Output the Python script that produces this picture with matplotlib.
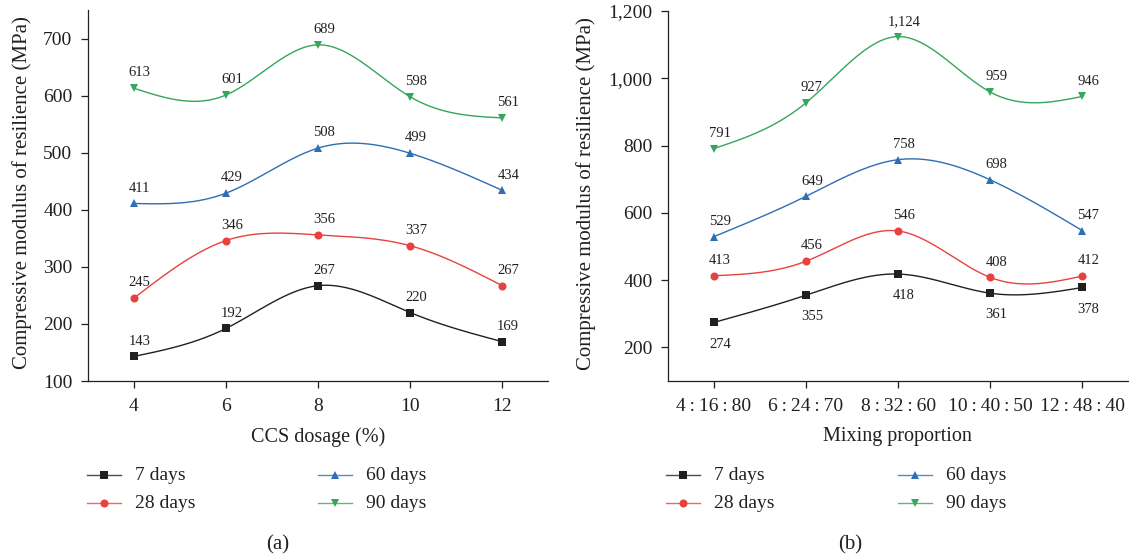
import numpy as np
import matplotlib
matplotlib.use("Agg")
import matplotlib.pyplot as plt
from matplotlib.lines import Line2D
from matplotlib.ticker import FuncFormatter

# ---------------- data ----------------
ccs_dosage = [4, 6, 8, 10, 12]
a_7d = [143, 192, 267, 220, 169]
a_28d = [245, 346, 356, 337, 267]
a_60d = [411, 429, 508, 499, 434]
a_90d = [613, 601, 689, 598, 561]

mix_labels = ["4\u2009:\u200916\u2009:\u200980", "6\u2009:\u200924\u2009:\u200970",
              "8\u2009:\u200932\u2009:\u200960", "10\u2009:\u200940\u2009:\u200950",
              "12\u2009:\u200948\u2009:\u200940"]
b_7d = [274, 355, 418, 361, 378]
b_28d = [413, 456, 546, 408, 412]
b_60d = [529, 649, 758, 698, 547]
b_90d = [791, 927, 1124, 959, 946]

series_names = ["7 days", "28 days", "60 days", "90 days"]
colors = ["#231f20", "#e8413f", "#2f6db5", "#35a65b"]
markers = ["s", "o", "^", "v"]
msizes = [5.2, 5.8, 6.2, 6.2]
TXT = "#231f20"

plt.rcParams["font.family"] = ["Liberation Serif", "DejaVu Serif"]


def natural_spline(x, y, n=200):
    x = np.asarray(x, float)
    y = np.asarray(y, float)
    k = len(x)
    h = np.diff(x)
    A = np.zeros((k, k))
    r = np.zeros(k)
    A[0, 0] = 1
    A[-1, -1] = 1
    for i in range(1, k - 1):
        A[i, i - 1] = h[i - 1]
        A[i, i] = 2 * (h[i - 1] + h[i])
        A[i, i + 1] = h[i]
        r[i] = 6 * ((y[i + 1] - y[i]) / h[i] - (y[i] - y[i - 1]) / h[i - 1])
    M = np.linalg.solve(A, r)
    xs = np.linspace(x[0], x[-1], n)
    idx = np.clip(np.searchsorted(x, xs) - 1, 0, k - 2)
    x0, x1 = x[idx], x[idx + 1]
    hh = x1 - x0
    t0 = x1 - xs
    t1 = xs - x0
    ys = (M[idx] * t0 ** 3 / (6 * hh) + M[idx + 1] * t1 ** 3 / (6 * hh)
          + (y[idx] / hh - M[idx] * hh / 6) * t0
          + (y[idx + 1] / hh - M[idx + 1] * hh / 6) * t1)
    return xs, ys


fig = plt.figure(figsize=(11.29, 5.6), dpi=100)
W, H = 1129.0, 560.0

ax1 = fig.add_axes([87.7 / W, 1 - 381 / H, (548.3 - 87.7) / W, (381 - 10) / H])
ax2 = fig.add_axes([667.7 / W, 1 - 381 / H, (1128.5 - 667.7) / W, (381 - 11) / H])


def style_axis(ax):
    for s in ["top", "right"]:
        ax.spines[s].set_visible(False)
    for s in ["left", "bottom"]:
        ax.spines[s].set_color(TXT)
        ax.spines[s].set_linewidth(0.9)
    ax.tick_params(axis="both", direction="out", length=5, width=0.9,
                   colors=TXT, labelsize=14, labelcolor=TXT)
    ax.tick_params(axis="x", pad=7)
    ax.tick_params(axis="y", pad=6)


def draw_series(ax, x, ys_list, below_first=False):
    for i, ys in enumerate(ys_list):
        sx, sy = natural_spline(x, ys)
        ax.plot(sx, sy, color=colors[i], lw=1.0, zorder=2)
        ax.plot(x, ys, linestyle="none", marker=markers[i], ms=msizes[i],
                color=colors[i], mew=0, zorder=3)
        for xv, yv in zip(x, ys):
            if below_first and i == 0:
                off = (4.3, -15.5)
            else:
                off = (4.3, 11)
            ax.annotate(f"{yv:,}", (xv, yv), xytext=off, textcoords="offset points",
                        ha="center", va="center", fontsize=10.5, color=TXT)


# ---- panel (a) ----
style_axis(ax1)
draw_series(ax1, ccs_dosage, [a_7d, a_28d, a_60d, a_90d])
ax1.set_xlim(3, 13)
ax1.set_ylim(100, 750)
ax1.set_xticks(ccs_dosage)
ax1.set_yticks([100, 200, 300, 400, 500, 600, 700])

# ---- panel (b) ----
style_axis(ax2)
xb = list(range(len(mix_labels)))
draw_series(ax2, xb, [b_7d, b_28d, b_60d, b_90d], below_first=True)
ax2.set_xlim(-0.5, 4.5)
ax2.set_ylim(100, 1200)
ax2.set_xticks(xb)
ax2.set_xticklabels(mix_labels)
ax2.set_yticks([200, 400, 600, 800, 1000, 1200])
ax2.yaxis.set_major_formatter(FuncFormatter(lambda v, p: f"{v:,.0f}"))

# ---- axis labels ----
ylab = "Compressive modulus of resilience (MPa)"
fig.text(22 / W, 1 - 193 / H, ylab, rotation=90, ha="center", va="center",
         fontsize=15, color=TXT)
fig.text(586 / W, 1 - 194 / H, ylab, rotation=90, ha="center", va="center",
         fontsize=15, color=TXT)
fig.text(318 / W, 1 - 437 / H, "CCS dosage (%)", ha="center", va="center",
         fontsize=14.5, color=TXT)
fig.text(897 / W, 1 - 437 / H, "Mixing proportion", ha="center", va="center",
         fontsize=14.5, color=TXT)
fig.text(278 / W, 1 - 545 / H, "(a)", ha="center", va="center", fontsize=15, color=TXT)
fig.text(850 / W, 1 - 545 / H, "(b)", ha="center", va="center", fontsize=15, color=TXT)

# ---- legends ----
row_y = [475, 503]
col_sets = [(104, 335), (683, 915)]
for (c1, c2) in col_sets:
    cols = [c1, c1, c2, c2]
    rows = [row_y[0], row_y[1], row_y[0], row_y[1]]
    for i in range(4):
        cx, cy = cols[i], rows[i]
        yy = 1 - cy / H
        fig.add_artist(Line2D([(cx - 17) / W, (cx + 17) / W], [yy, yy],
                              color=colors[i], lw=1.0, alpha=0.8))
        fig.add_artist(Line2D([cx / W], [yy], marker=markers[i], ms=msizes[i],
                              color=colors[i], mew=0, linestyle="none"))
        fig.text((cx + 31) / W, yy, series_names[i], ha="left", va="center",
                 fontsize=14, color=TXT)

fig.savefig("out.png", dpi=100)
